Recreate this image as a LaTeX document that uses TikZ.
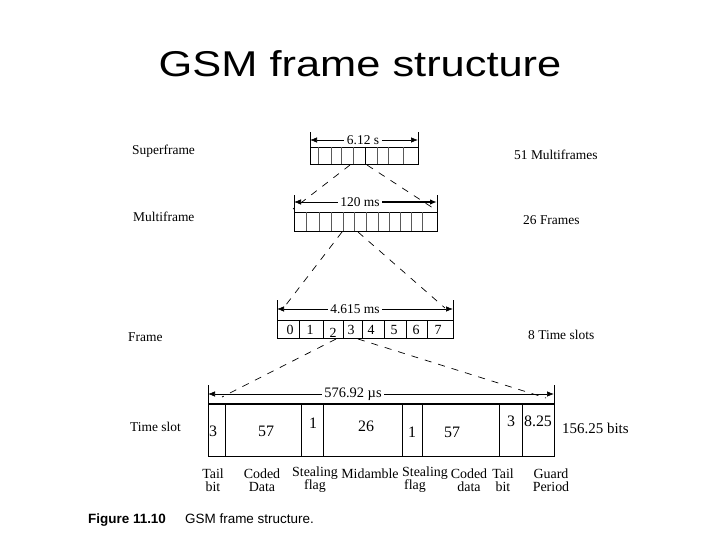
\documentclass[tikz,border=0pt]{standalone}
\usepackage{fontspec}
\setmainfont{Liberation Serif}
\newfontfamily\arialf{Liberation Sans}
\usetikzlibrary{arrows.meta,calc}
\begin{document}
\begin{tikzpicture}[x=1bp,y=-1bp,
  lbl/.style={font=\fontsize{13.5}{15}\selectfont, inner sep=0},
  tsl/.style={font=\fontsize{14}{13}\selectfont, inner sep=0, align=center},
  tsn/.style={font=\fontsize{16}{16}\selectfont, inner sep=0},
  frm/.style={draw, line width=0.8bp, inner sep=0, anchor=north west},
  cell/.style={line width=0.6bp, black!65},
  dsh/.style={dash pattern=on 7bp off 7bp, line width=0.7bp},
  dim/.style={line width=0.7bp, -{Latex[length=7bp,width=5.5bp]}},
  dimlbl/.style={font=\fontsize{13.5}{15}\selectfont, inner sep=2.5bp},
  tick/.style={line width=0.7bp}]
\useasboundingbox (0,0) rectangle (720,540);
\fill[white] (0,0) rectangle (720,540);

% title
\node[font=\arialf\fontsize{36}{40}\selectfont, inner sep=0, anchor=base] (title) at (360,77) {\scalebox{1.21}[1]{GSM frame structure}};

% left labels
\node[lbl, anchor=west] (lsf) at (132,151) {Superframe};
\node[lbl, anchor=west] (lmf) at (133,217) {Multiframe};
\node[lbl, anchor=west] (lfr) at (128,337) {Frame};
\node[lbl, anchor=west] (lts) at (130,427) {Time slot};

% right labels
\node[lbl, anchor=west] (rsf) at (514,155) {51 Multiframes};
\node[lbl, anchor=west] (rmf) at (523,220) {26 Frames};
\node[lbl, anchor=west] (rfr) at (528,335) {8 Time slots};
\node[lbl, font=\fontsize{15}{15}\selectfont, anchor=west] (rts) at (562,428) {156.25 bits};

% superframe
\node[frm, minimum width=108bp, minimum height=17bp] (sf) at (310,147) {};
\foreach \x in {318,331,341,353,377,388,403} \draw[cell] (\x,147) -- (\x,164);
\draw[line width=1bp] (365,147) -- (365,164);
\draw[tick] (sf.north west) -- ++(0,-15);
\draw[tick] (sf.north east) -- ++(0,-15);
\node[dimlbl] (dsf) at (363,140) {6.12 s};
\coordinate (sfLa) at (310,140);
\coordinate (sfRa) at (418,140);
\draw[dim] (dsf.west) -- (sfLa);
\draw[dim] (dsf.east) -- (sfRa);

% multiframe
\node[frm, minimum width=143bp, minimum height=19bp] (mf) at (294,212) {};
\foreach \x in {306,319,331,343,354,366,378,389,400,411,422} \draw[cell] (\x,212) -- (\x,231);
\draw[tick] (mf.north west) -- ++(0,-17);
\draw[tick] (mf.north east) -- ++(0,-17);
\node[dimlbl] (dmf) at (360,202) {120 ms};
\coordinate (mfLa) at (294,202);
\coordinate (mfRa) at (437,202);
\draw[dim] (dmf.west) -- (mfLa);
\draw[dim, line width=1.6bp] (dmf.east) -- (mfRa);

% frame
\node[frm, minimum width=176bp, minimum height=18bp] (fr) at (277,320) {};
\foreach \x in {299,323,343,362,384,406,427} \draw[line width=0.7bp] (\x,320) -- (\x,338);
\draw[tick] (fr.north west) -- ++(0,-20);
\draw[tick] (fr.north east) -- ++(0,-20);
\node[dimlbl] (dfr) at (355,309) {4.615 ms};
\coordinate (frLa) at (277,309);
\coordinate (frRa) at (453,309);
\draw[dim] (dfr.west) -- (frLa);
\draw[dim] (dfr.east) -- (frRa);
\foreach \x/\y/\t [count=\i] in {290/330/0,310/330/1,333/333/2,351/330/3,371/330/4,394/330/5,416/330/6,438/330/7}
  \node[lbl, font=\fontsize{14}{15}\selectfont] (n\i) at (\x,\y) {\t};

% time slot
\node[frm, minimum width=346bp, minimum height=52bp] (ts) at (208,404) {};
\draw[line width=1.6bp] (ts.north west) -- (ts.north east);
\foreach \x in {225,301,323,402,422,499,522} \draw[line width=0.7bp] (\x,404) -- (\x,456);
\draw[tick] (ts.north west) -- ++(0,-19);
\draw[tick] (ts.north east) -- ++(0,-19);
\node[dimlbl, font=\fontsize{14.5}{15}\selectfont] (dts) at (353,394) {576.92 µs};
\coordinate (tsLa) at (208,394);
\coordinate (tsRa) at (554,394);
\draw[dim] (dts.west) -- (tsLa);
\draw[dim] (dts.east) -- (tsRa);
\foreach \x/\y/\t [count=\i] in {213/431/3,266/431/57,313/423/1,366/426/26,412/432/1,452/432/57,511/421/3,538/421/8.25}
  \node[tsn] (b\i) at (\x,\y) {\t};

% field labels
\node[tsl] (f1) at (213,480) {Tail\\bit};
\node[tsl] (f2) at (262,480) {Coded\\Data};
\node[tsl] (f3) at (315,480) {Stealing\\flag};
\node[tsl] (f4) at (370,473.5) {Midamble};
\node[tsl] (f5) at (425,480) {Stealing\\flag\hspace*{20bp}};
\node[tsl] (f6) at (469,480) {Coded\\data};
\node[tsl] (f7) at (503,480) {Tail\\bit};
\node[tsl] (f8) at (551,480) {Guard\\Period};

% dashed expansion lines
\coordinate (a1) at (350,165); \coordinate (a2) at (293,209);
\coordinate (a3) at (367,165); \coordinate (a4) at (433,208);
\coordinate (c1) at (342,232); \coordinate (c2) at (282,310);
\coordinate (c3) at (358,232); \coordinate (c4) at (445,308);
\coordinate (e1) at (336,339); \coordinate (e2) at (222,397);
\coordinate (e3) at (358,339); \coordinate (e4) at (546,398);
\draw[dsh] (a1) -- (a2);
\draw[dsh] (a3) -- (a4);
\draw[dsh] (c1) -- (c2);
\draw[dsh] (c3) -- (c4);
\draw[dsh] (e1) -- (e2);
\draw[dsh] (e3) -- (e4);

% caption
\node[font=\arialf\bfseries\fontsize{13.5}{15}\selectfont, inner sep=0, anchor=base west] (cap1) at (88,523) {Figure 11.10};
\node[font=\arialf\fontsize{13.5}{15}\selectfont, inner sep=0, anchor=base west] (cap2) at (185,523) {GSM frame structure.};
\end{tikzpicture}
\end{document}
